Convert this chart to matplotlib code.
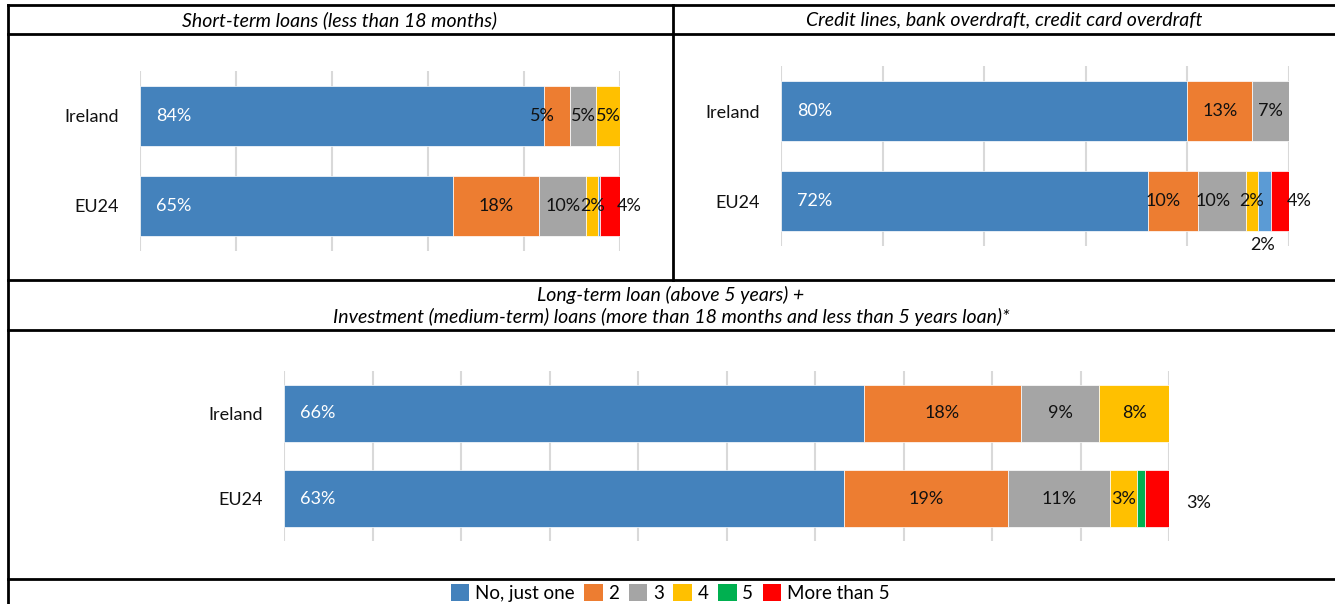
import matplotlib
matplotlib.use("Agg")
import matplotlib.pyplot as plt
from matplotlib.lines import Line2D
from matplotlib.patches import Patch

plt.rcParams['font.family'] = ['Lato', 'DejaVu Sans']

W, H = 1335, 604

categories = ["No, just one", "2", "3", "4", "5", "More than 5"]
rows = ["Ireland", "EU24"]

short_ireland = [84.2, 5.4, 5.4, 5.0, 0.0, 0.0]
short_eu24 = [65.2, 17.9, 9.9, 2.4, 0.4, 4.2]
short_ireland_lbl = [84, 5, 5, 5, None, None]
short_eu24_lbl = [65, 18, 10, 2, None, 4]

credit_ireland = [80.0, 12.8, 7.2, 0.0, 0.0, 0.0]
credit_eu24 = [72.2, 9.8, 9.6, 2.2, 2.6, 3.6]
credit_ireland_lbl = [80, 13, 7, None, None, None]
credit_eu24_lbl = [72, 10, 10, 2, 2, 4]

long_ireland = [65.5, 17.8, 8.8, 7.9, 0.0, 0.0]
long_eu24 = [63.3, 18.5, 11.5, 3.1, 0.9, 2.7]
long_ireland_lbl = [66, 18, 9, 8, None, None]
long_eu24_lbl = [63, 19, 11, 3, None, 3]

colors_top = ['#4482BC', '#ED7D31', '#A5A5A5', '#FFC000', '#5B9BD5', '#FF0000']
colors_bottom = ['#4482BC', '#ED7D31', '#A5A5A5', '#FFC000', '#00B050', '#FF0000']

# pixel nudges for labels Excel moved: (row, category) -> (dx, dy)
nudge_short = {(0, 1): (-15, 0), (1, 5): (19, 0)}
nudge_credit = {(1, 1): (-10, 0), (1, 2): (-9, 0), (1, 4): (-2, -44), (1, 5): (19, 0)}
nudge_long = {(1, 5): (42, -5)}


def fx(px):
    return px / W


def fy(py):
    return 1 - py / H


fig = plt.figure(figsize=(W / 100, H / 100), dpi=100)


def draw_panel(rect, data_rows, label_rows, colors, step, nudges, bar_h):
    ax = fig.add_axes(rect)
    for r, (vals, lbls) in enumerate(zip(data_rows, label_rows)):
        y = 1 - r
        left = 0
        for c, (v, lb) in enumerate(zip(vals, lbls)):
            if v > 0:
                ax.barh(y, v, left=left, height=bar_h, color=colors[c],
                        edgecolor='white', linewidth=0.5, zorder=3)
            if lb is not None:
                dx, dy = nudges.get((r, c), (0, 0))
                if c == 0:
                    ax.annotate(f"{lb}%", (left, y), xytext=(16 + dx, dy),
                                textcoords='offset pixels', ha='left', va='center',
                                color='white', fontsize=13, zorder=4)
                else:
                    ax.annotate(f"{lb}%", (left + v / 2, y), xytext=(dx, dy),
                                textcoords='offset pixels', ha='center', va='center',
                                color='#111111', fontsize=13, zorder=4)
            left += v
    ax.set_xlim(0, 100)
    ax.set_ylim(-0.5, 1.5)
    ax.set_xticks(range(0, 101, step))
    ax.set_xticklabels([])
    ax.set_yticks([1, 0])
    ax.set_yticklabels(rows, fontsize=13, color='#111111')
    ax.tick_params(length=0, pad=15)
    ax.grid(axis='x', color='#D9D9D9', linewidth=1.5, zorder=0)
    for s in ax.spines.values():
        s.set_visible(False)
    return ax


draw_panel([fx(140), fy(251), fx(620) - fx(140), fy(71) - fy(251)],
           [short_ireland, short_eu24], [short_ireland_lbl, short_eu24_lbl],
           colors_top, 20, nudge_short, 0.66)
draw_panel([fx(781), fy(246), fx(1289) - fx(781), fy(66) - fy(246)],
           [credit_ireland, credit_eu24], [credit_ireland_lbl, credit_eu24_lbl],
           colors_top, 20, nudge_credit, 0.667)
draw_panel([fx(284), fy(541), fx(1169) - fx(284), fy(371) - fy(541)],
           [long_ireland, long_eu24], [long_ireland_lbl, long_eu24_lbl],
           colors_bottom, 10, nudge_long, 0.66)

# table borders
border = [((8, 5), (W, 5)), ((8, 34), (W, 34)), ((8, 280), (W, 280)),
          ((8, 330), (W, 330)), ((8, 579), (W, 579)),
          ((8, 5), (8, H)), ((673, 5), (673, 280))]
for (x0, y0), (x1, y1) in border:
    fig.add_artist(Line2D([fx(x0), fx(x1)], [fy(y0), fy(y1)], color='black',
                          linewidth=2, transform=fig.transFigure))

title_size = 14
fig.text(fx(340), fy(20), "Short-term loans (less than 18 months)", style='italic',
         ha='center', va='center', fontsize=title_size)
fig.text(fx(1004), fy(20), "Credit lines, bank overdraft, credit card overdraft",
         style='italic', ha='center', va='center', fontsize=title_size)
fig.text(fx(671), fy(295), "Long-term loan (above 5 years) +", style='italic',
         ha='center', va='center', fontsize=title_size)
fig.text(fx(671), fy(317),
         "Investment (medium-term) loans (more than 18 months and less than 5 years loan)*",
         style='italic', ha='center', va='center', fontsize=title_size)

handles = [Patch(facecolor=c) for c in colors_bottom]
fig.legend(handles, categories, loc='center', bbox_to_anchor=(fx(670), fy(593)),
           ncol=6, frameon=False, fontsize=13.5, handlelength=1.0, handleheight=1.0,
           handletextpad=0.3, columnspacing=0.5, borderpad=0)

fig.savefig("out.png", dpi=100)
